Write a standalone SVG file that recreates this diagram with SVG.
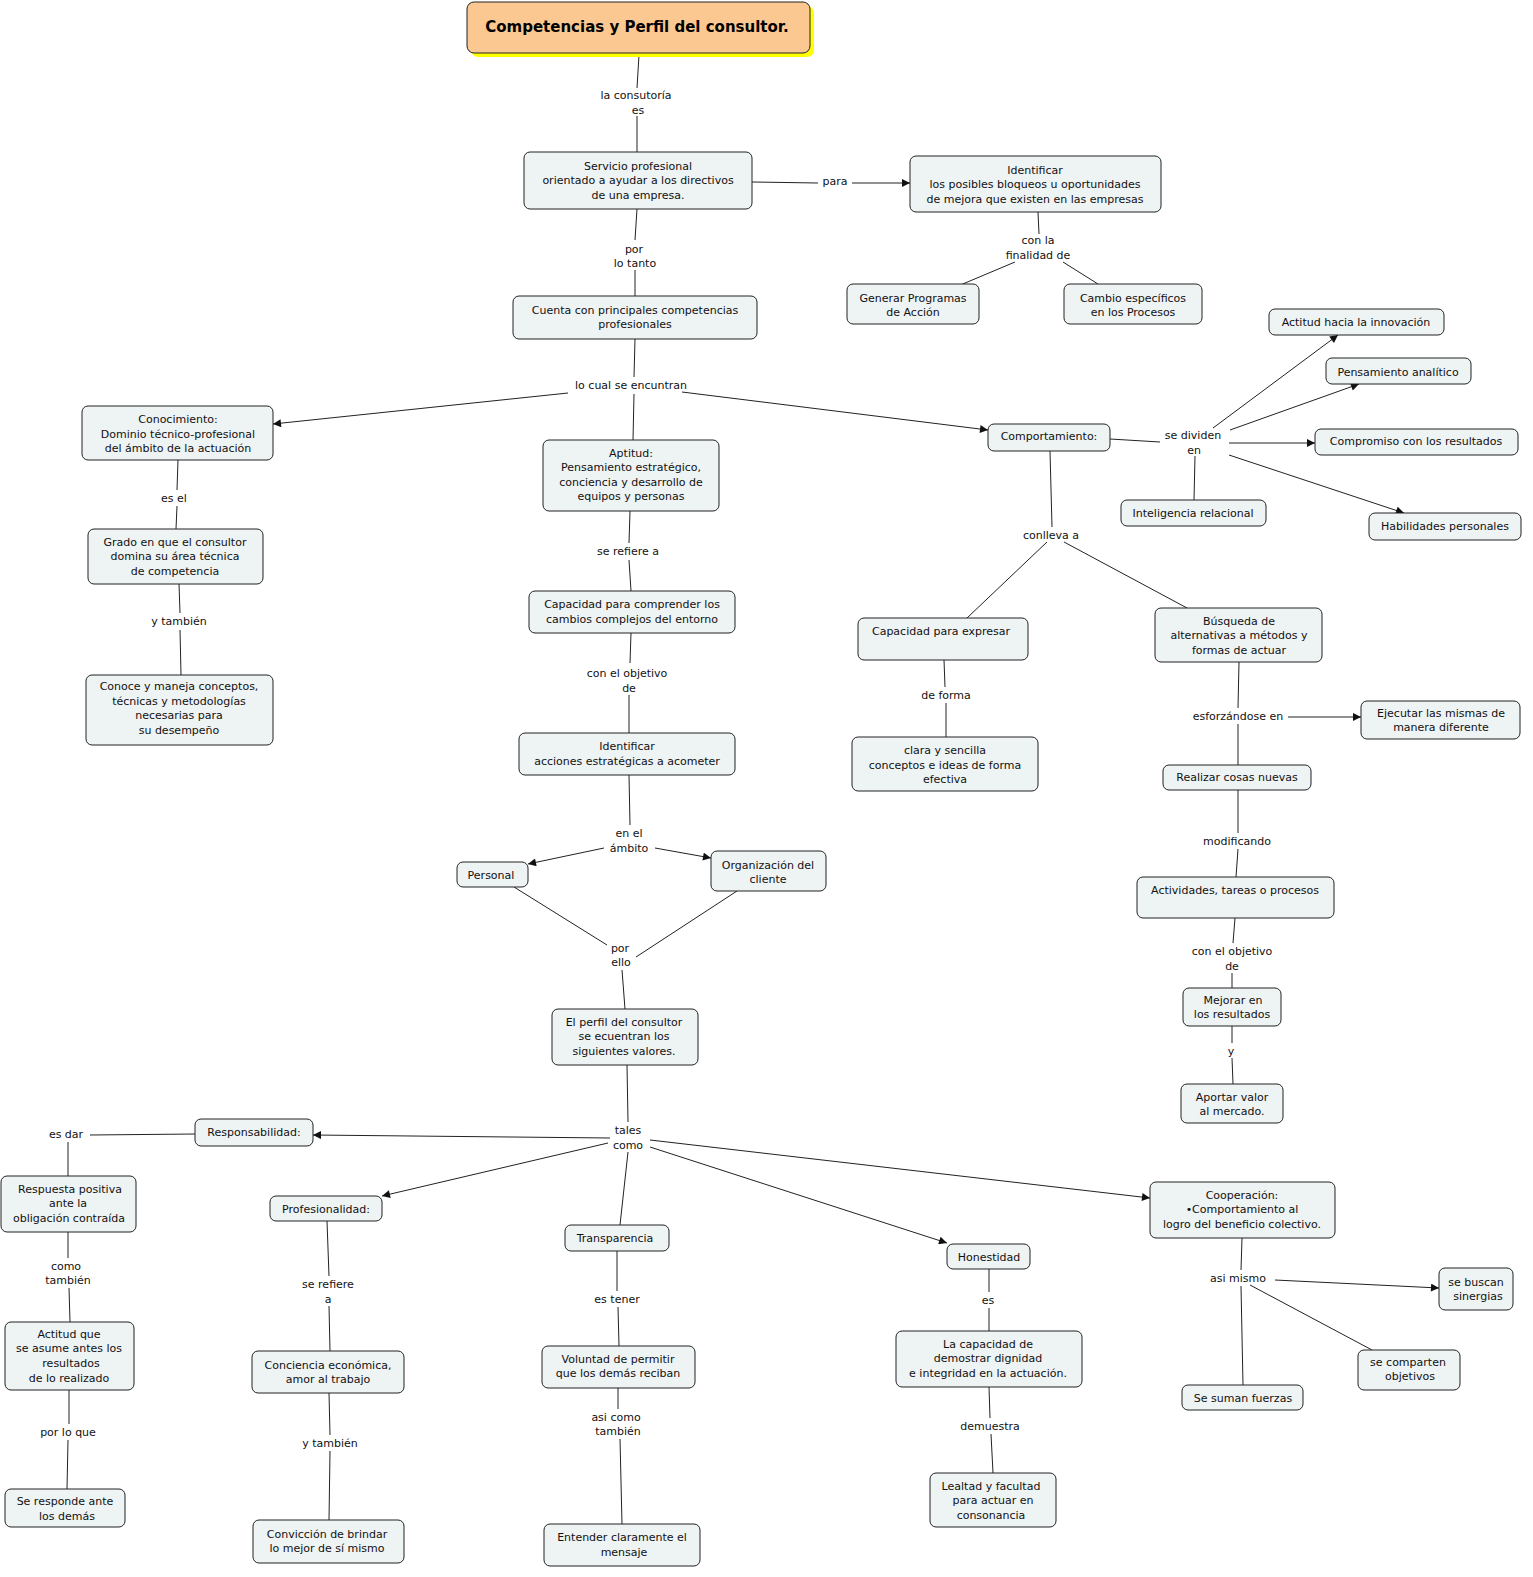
<svg xmlns="http://www.w3.org/2000/svg" width="1533" height="1577" viewBox="0 0 1533 1577">
<style>
.n{fill:#eef3f4;stroke:#222;stroke-width:1}
.t{font-family:"DejaVu Sans",Verdana,sans-serif;font-size:11px;fill:#111;text-anchor:middle}
.c line{stroke:#222;stroke-width:1}
.a{marker-end:url(#ar)}
</style>
<defs><marker id="ar" viewBox="0 0 10 10" refX="10" refY="5" markerWidth="10" markerHeight="8" markerUnits="userSpaceOnUse" orient="auto"><path d="M0,0L10,5L0,10z" fill="#111"/></marker></defs>
<rect width="1533" height="1577" fill="#fff"/>
<g class="c">
<line x1="639" y1="55" x2="637" y2="88"/><line x1="637" y1="116" x2="637" y2="152"/>
<line x1="752" y1="182" x2="818" y2="183"/><line class="a" x1="852" y1="183" x2="910" y2="183"/>
<line x1="1038" y1="212" x2="1039" y2="234"/><line x1="1015" y1="262" x2="958" y2="286"/><line x1="1063" y1="262" x2="1098" y2="284"/>
<line x1="637" y1="209" x2="635" y2="240"/><line x1="635" y1="270" x2="635" y2="296"/>
<line x1="635" y1="339" x2="634" y2="377"/><line class="a" x1="568" y1="393" x2="273" y2="424"/><line class="a" x1="682" y1="392" x2="988" y2="430"/>
<line x1="634" y1="394" x2="633" y2="440"/>
<line x1="178" y1="460" x2="177" y2="490"/><line x1="177" y1="506" x2="176" y2="529"/>
<line x1="179" y1="584" x2="180" y2="613"/><line x1="180" y1="630" x2="181" y2="675"/>
<line x1="630" y1="511" x2="629" y2="543"/><line x1="629" y1="560" x2="631" y2="591"/>
<line x1="631" y1="633" x2="630" y2="663"/><line x1="629" y1="695" x2="629" y2="733"/>
<line x1="629" y1="775" x2="630" y2="825"/><line class="a" x1="604" y1="848" x2="528" y2="864"/><line class="a" x1="655" y1="848" x2="711" y2="858"/>
<line x1="514" y1="887" x2="607" y2="945"/><line x1="737" y1="891" x2="636" y2="957"/><line x1="622" y1="970" x2="625" y2="1009"/>
<line x1="627" y1="1065" x2="628" y2="1122"/><line class="a" x1="610" y1="1138" x2="313" y2="1135"/><line class="a" x1="608" y1="1143" x2="382" y2="1196"/>
<line x1="628" y1="1152" x2="620" y2="1225"/><line class="a" x1="650" y1="1147" x2="947" y2="1243"/><line class="a" x1="650" y1="1140" x2="1150" y2="1198"/>
<line x1="195" y1="1134" x2="90" y2="1135"/><line x1="68" y1="1142" x2="68" y2="1176"/>
<line x1="68" y1="1232" x2="68" y2="1258"/><line x1="69" y1="1288" x2="70" y2="1322"/>
<line x1="69" y1="1390" x2="69" y2="1424"/><line x1="68" y1="1440" x2="67" y2="1489"/>
<line x1="327" y1="1221" x2="329" y2="1276"/><line x1="329" y1="1306" x2="330" y2="1351"/>
<line x1="329" y1="1393" x2="330" y2="1435"/><line x1="330" y1="1451" x2="329" y2="1520"/>
<line x1="617" y1="1251" x2="617" y2="1291"/><line x1="618" y1="1307" x2="619" y2="1346"/>
<line x1="618" y1="1388" x2="618" y2="1409"/><line x1="620" y1="1439" x2="622" y2="1524"/>
<line x1="989" y1="1269" x2="989" y2="1292"/><line x1="989" y1="1308" x2="989" y2="1331"/>
<line x1="989" y1="1387" x2="990" y2="1418"/><line x1="991" y1="1434" x2="993" y2="1473"/>
<line x1="1242" y1="1238" x2="1241" y2="1270"/><line class="a" x1="1275" y1="1280" x2="1439" y2="1288"/><line x1="1250" y1="1285" x2="1372" y2="1350"/><line x1="1241" y1="1286" x2="1243" y2="1385"/>
<line x1="1110" y1="439" x2="1160" y2="442"/><line class="a" x1="1213" y1="428" x2="1338" y2="335"/><line class="a" x1="1230" y1="430" x2="1359" y2="384"/>
<line class="a" x1="1229" y1="443" x2="1315" y2="443"/><line class="a" x1="1229" y1="455" x2="1404" y2="513"/><line x1="1195" y1="456" x2="1194" y2="500"/>
<line x1="1050" y1="451" x2="1052" y2="527"/><line x1="1047" y1="542" x2="967" y2="618"/><line x1="1064" y1="542" x2="1187" y2="608"/>
<line x1="944" y1="660" x2="945" y2="687"/><line x1="946" y1="703" x2="946" y2="737"/>
<line x1="1239" y1="662" x2="1238" y2="708"/><line class="a" x1="1288" y1="717" x2="1361" y2="717"/><line x1="1238" y1="724" x2="1238" y2="765"/>
<line x1="1238" y1="790" x2="1238" y2="833"/><line x1="1238" y1="849" x2="1236" y2="877"/>
<line x1="1235" y1="918" x2="1233" y2="943"/><line x1="1232" y1="973" x2="1232" y2="988"/>
<line x1="1232" y1="1026" x2="1232" y2="1043"/><line x1="1232" y1="1058" x2="1233" y2="1084"/>
</g>
<g id="labels" class="t">
<text x="636" y="99">la consutoría</text><text x="638" y="114">es</text>
<text x="835" y="185">para</text>
<text x="1038" y="244">con la</text><text x="1038" y="259">finalidad de</text>
<text x="634" y="253">por</text><text x="635" y="267">lo tanto</text>
<text x="631" y="389">lo cual se encuntran</text>
<text x="1193" y="439">se dividen</text><text x="1194" y="454">en</text>
<text x="174" y="502">es el</text>
<text x="628" y="555">se refiere a</text>
<text x="1051" y="539">conlleva a</text>
<text x="179" y="625">y también</text>
<text x="627" y="677">con el objetivo</text><text x="629" y="692">de</text>
<text x="946" y="699">de forma</text>
<text x="1238" y="720">esforzándose en</text>
<text x="629" y="837">en el</text><text x="629" y="852">ámbito</text>
<text x="1237" y="845">modificando</text>
<text x="620" y="952">por</text><text x="621" y="966">ello</text>
<text x="1232" y="955">con el objetivo</text><text x="1232" y="970">de</text>
<text x="1231" y="1055">y</text>
<text x="628" y="1134">tales</text><text x="628" y="1149">como</text>
<text x="66" y="1138">es dar</text>
<text x="66" y="1270">como</text><text x="68" y="1284">también</text>
<text x="328" y="1288">se refiere</text><text x="328" y="1303">a</text>
<text x="617" y="1303">es tener</text>
<text x="988" y="1304">es</text>
<text x="1238" y="1282">asi mismo</text>
<text x="68" y="1436">por lo que</text>
<text x="330" y="1447">y también</text>
<text x="616" y="1421">asi como</text><text x="618" y="1435">también</text>
<text x="990" y="1430">demuestra</text>
</g>
<g id="title"><rect x="471" y="6" width="343" height="51" rx="7" fill="#ffff00"/><rect x="467" y="2" width="343" height="51" rx="7" fill="#fcc891" stroke="#222"/><text x="637" y="32" style="font-family:'DejaVu Sans',Verdana,sans-serif;font-size:15px;font-weight:bold;text-anchor:middle">Competencias y Perfil del consultor.</text></g>
<g id="n1"><rect class="n" x="524" y="152" width="228" height="57" rx="6"/><text class="t" x="638" y="170">Servicio profesional</text><text class="t" x="638" y="184">orientado a ayudar a los directivos</text><text class="t" x="638" y="199">de una empresa.</text></g>
<g id="n2"><rect class="n" x="910" y="156" width="251" height="56" rx="6"/><text class="t" x="1035" y="174">Identificar</text><text class="t" x="1035" y="188">los posibles bloqueos u oportunidades</text><text class="t" x="1035" y="203">de mejora que existen en las empresas</text></g>
<g id="n3"><rect class="n" x="847" y="284" width="132" height="40" rx="6"/><text class="t" x="913" y="302">Generar Programas</text><text class="t" x="913" y="316">de Acción</text></g>
<g id="n4"><rect class="n" x="1064" y="284" width="138" height="40" rx="6"/><text class="t" x="1133" y="302">Cambio específicos</text><text class="t" x="1133" y="316">en los Procesos</text></g>
<g id="n5"><rect class="n" x="513" y="296" width="244" height="43" rx="6"/><text class="t" x="635" y="314">Cuenta con principales competencias</text><text class="t" x="635" y="328">profesionales</text></g>
<g id="n6"><rect class="n" x="82" y="406" width="191" height="54" rx="6"/><text class="t" x="178" y="423">Conocimiento:</text><text class="t" x="178" y="438">Dominio técnico-profesional</text><text class="t" x="178" y="452">del ámbito de la actuación</text></g>
<g id="n7"><rect class="n" x="543" y="440" width="176" height="71" rx="6"/><text class="t" x="631" y="457">Aptitud:</text><text class="t" x="631" y="471">Pensamiento estratégico,</text><text class="t" x="631" y="486">conciencia y desarrollo de</text><text class="t" x="631" y="500">equipos y personas</text></g>
<g id="n8"><rect class="n" x="988" y="424" width="122" height="27" rx="6"/><text class="t" x="1049" y="440">Comportamiento:</text></g>
<g id="n9"><rect class="n" x="1269" y="309" width="175" height="26" rx="6"/><text class="t" x="1356" y="326">Actitud hacia la innovación</text></g>
<g id="n10"><rect class="n" x="1326" y="358" width="145" height="26" rx="6"/><text class="t" x="1398" y="376">Pensamiento analítico</text></g>
<g id="n11"><rect class="n" x="1315" y="429" width="203" height="26" rx="6"/><text class="t" x="1416" y="445">Compromiso con los resultados</text></g>
<g id="n12"><rect class="n" x="1121" y="500" width="145" height="26" rx="6"/><text class="t" x="1193" y="517">Inteligencia relacional</text></g>
<g id="n13"><rect class="n" x="1369" y="513" width="152" height="27" rx="6"/><text class="t" x="1445" y="530">Habilidades personales</text></g>
<g id="n14"><rect class="n" x="88" y="529" width="175" height="55" rx="6"/><text class="t" x="175" y="546">Grado en que el consultor</text><text class="t" x="175" y="560">domina su área técnica</text><text class="t" x="175" y="575">de competencia</text></g>
<g id="n15"><rect class="n" x="529" y="591" width="206" height="42" rx="6"/><text class="t" x="632" y="608">Capacidad para comprender los</text><text class="t" x="632" y="623">cambios complejos del entorno</text></g>
<g id="n16"><rect class="n" x="858" y="618" width="170" height="42" rx="6"/><text class="t" x="941" y="635">Capacidad para expresar</text></g>
<g id="n17"><rect class="n" x="1155" y="608" width="167" height="54" rx="6"/><text class="t" x="1239" y="625">Búsqueda de</text><text class="t" x="1239" y="639">alternativas a métodos y</text><text class="t" x="1239" y="654">formas de actuar</text></g>
<g id="n18"><rect class="n" x="86" y="675" width="187" height="70" rx="6"/><text class="t" x="179" y="690">Conoce y maneja conceptos,</text><text class="t" x="179" y="705">técnicas y metodologías</text><text class="t" x="179" y="719">necesarias para</text><text class="t" x="179" y="734">su desempeño</text></g>
<g id="n19"><rect class="n" x="519" y="733" width="216" height="42" rx="6"/><text class="t" x="627" y="750">Identificar</text><text class="t" x="627" y="765">acciones estratégicas a acometer</text></g>
<g id="n20"><rect class="n" x="852" y="737" width="186" height="54" rx="6"/><text class="t" x="945" y="754">clara y sencilla</text><text class="t" x="945" y="769">conceptos e ideas de forma</text><text class="t" x="945" y="783">efectiva</text></g>
<g id="n21"><rect class="n" x="1361" y="701" width="159" height="38" rx="6"/><text class="t" x="1441" y="717">Ejecutar las mismas de</text><text class="t" x="1441" y="731">manera diferente</text></g>
<g id="n22"><rect class="n" x="1163" y="765" width="148" height="25" rx="6"/><text class="t" x="1237" y="781">Realizar cosas nuevas</text></g>
<g id="n23"><rect class="n" x="457" y="862" width="71" height="25" rx="6"/><text class="t" x="491" y="879">Personal</text></g>
<g id="n24"><rect class="n" x="711" y="851" width="115" height="40" rx="6"/><text class="t" x="768" y="869">Organización del</text><text class="t" x="768" y="883">cliente</text></g>
<g id="n25"><rect class="n" x="1137" y="877" width="197" height="41" rx="6"/><text class="t" x="1235" y="894">Actividades, tareas o procesos</text></g>
<g id="n26"><rect class="n" x="1183" y="988" width="98" height="38" rx="6"/><text class="t" x="1233" y="1004">Mejorar en</text><text class="t" x="1232" y="1018">los resultados</text></g>
<g id="n27"><rect class="n" x="552" y="1009" width="146" height="56" rx="6"/><text class="t" x="624" y="1026">El perfil del consultor</text><text class="t" x="624" y="1040">se ecuentran los</text><text class="t" x="624" y="1055">siguientes valores.</text></g>
<g id="n28"><rect class="n" x="1181" y="1084" width="102" height="39" rx="6"/><text class="t" x="1232" y="1101">Aportar valor</text><text class="t" x="1232" y="1115">al mercado.</text></g>
<g id="n29"><rect class="n" x="195" y="1119" width="118" height="27" rx="6"/><text class="t" x="254" y="1136">Responsabilidad:</text></g>
<g id="n30"><rect class="n" x="1" y="1176" width="135" height="56" rx="6"/><text class="t" x="70" y="1193">Respuesta positiva</text><text class="t" x="68" y="1207">ante la</text><text class="t" x="69" y="1222">obligación contraída</text></g>
<g id="n31"><rect class="n" x="270" y="1196" width="112" height="25" rx="6"/><text class="t" x="326" y="1213">Profesionalidad:</text></g>
<g id="n32"><rect class="n" x="565" y="1225" width="104" height="26" rx="6"/><text class="t" x="615" y="1242">Transparencia</text></g>
<g id="n33"><rect class="n" x="947" y="1244" width="83" height="25" rx="6"/><text class="t" x="989" y="1261">Honestidad</text></g>
<g id="n34"><rect class="n" x="1150" y="1182" width="185" height="56" rx="6"/><text class="t" x="1242" y="1199">Cooperación:</text><text class="t" x="1242" y="1213">•Comportamiento al</text><text class="t" x="1242" y="1228">logro del beneficio colectivo.</text></g>
<g id="n35"><rect class="n" x="1439" y="1268" width="74" height="42" rx="6"/><text class="t" x="1476" y="1286">se buscan</text><text class="t" x="1478" y="1300">sinergias</text></g>
<g id="n36"><rect class="n" x="5" y="1322" width="129" height="68" rx="6"/><text class="t" x="69" y="1338">Actitud que</text><text class="t" x="69" y="1352">se asume antes los</text><text class="t" x="71" y="1367">resultados</text><text class="t" x="69" y="1382">de lo realizado</text></g>
<g id="n37"><rect class="n" x="252" y="1351" width="152" height="42" rx="6"/><text class="t" x="328" y="1369">Conciencia económica,</text><text class="t" x="328" y="1383">amor al trabajo</text></g>
<g id="n38"><rect class="n" x="542" y="1346" width="153" height="42" rx="6"/><text class="t" x="618" y="1363">Voluntad de permitir</text><text class="t" x="618" y="1377">que los demás reciban</text></g>
<g id="n39"><rect class="n" x="896" y="1331" width="186" height="56" rx="6"/><text class="t" x="988" y="1348">La capacidad de</text><text class="t" x="988" y="1362">demostrar dignidad</text><text class="t" x="988" y="1377">e integridad en la actuación.</text></g>
<g id="n40"><rect class="n" x="1358" y="1350" width="102" height="40" rx="6"/><text class="t" x="1408" y="1366">se comparten</text><text class="t" x="1410" y="1380">objetivos</text></g>
<g id="n41"><rect class="n" x="1182" y="1385" width="121" height="25" rx="6"/><text class="t" x="1243" y="1402">Se suman fuerzas</text></g>
<g id="n42"><rect class="n" x="5" y="1489" width="120" height="38" rx="6"/><text class="t" x="65" y="1505">Se responde ante</text><text class="t" x="67" y="1520">los demás</text></g>
<g id="n43"><rect class="n" x="253" y="1520" width="151" height="43" rx="6"/><text class="t" x="327" y="1538">Convicción de brindar</text><text class="t" x="327" y="1552">lo mejor de sí mismo</text></g>
<g id="n44"><rect class="n" x="544" y="1524" width="156" height="42" rx="6"/><text class="t" x="622" y="1541">Entender claramente el</text><text class="t" x="624" y="1556">mensaje</text></g>
<g id="n45"><rect class="n" x="930" y="1473" width="126" height="54" rx="6"/><text class="t" x="991" y="1490">Lealtad y facultad</text><text class="t" x="993" y="1504">para actuar en</text><text class="t" x="991" y="1519">consonancia</text></g>
</svg>
